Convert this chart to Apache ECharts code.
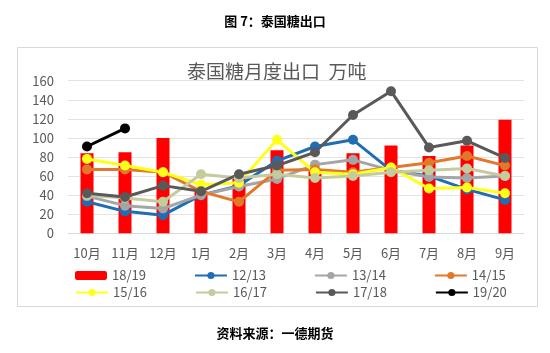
<!DOCTYPE html>
<html><head><meta charset="utf-8">
<script src="https://cdn.jsdelivr.net/npm/echarts@6/dist/echarts.min.js"></script>
<style>html,body{margin:0;padding:0;background:#fff}#c{width:550px;height:353px}</style>
</head><body><div id="c"></div>
<script>
const months = ['10月','11月','12月','1月','2月','3月','4月','5月','6月','7月','8月','9月'];
const yTicks = [0,20,40,60,80,100,120,140,160];
const s1819 = [84,85,100,44,58,87,65,84,92,81,92,119];
const s1213 = [33,23,19,40,50,76,91,98,66,60,46,35];
const s1314 = [39,29,26,40,49,57,72,77,66,59,58,60];
const s1415 = [67,67,64,44,33,66,67,64,69,74,81,71];
const s1516 = [78,71,64,51,53,98,64,62,69,47,48,42];
const s1617 = [40,37,33,62,58,62,58,60,64,66,68,60];
const s1718 = [42,38,50,44,62,71,85,124,149,90,97,79];
const s1920 = [91,110];

const font = '"Noto Sans CJK SC", "Noto Sans", sans-serif';
function line(name, data, color, z) {
  return {name, type:'line', data, symbol:'circle', symbolSize:10, z:z||2,
    lineStyle:{color, width:3}, itemStyle:{color}, emphasis:{disabled:true}};
}
const chart = echarts.init(document.getElementById('c'), null, {renderer:'canvas'});
chart.setOption({
  animation:false,
  graphic:[
    {type:'rect', shape:{x:17.5,y:47.5,width:520,height:259}, style:{fill:'none', stroke:'#d9d9d9', lineWidth:1}, z:-1},
    {type:'text', left:'center', top:15, style:{text:'图 7：泰国糖出口', font:'bold 13px '+font, fill:'#000'}},
    {type:'text', left:'center', top:327, style:{text:'资料来源：一德期货', font:'bold 13px '+font, fill:'#000'}},
    {type:'text', x:187, y:62, style:{text:'泰国糖月度出口  万吨', font:'19px '+font, fill:'#595959'}}
  ],
  grid:{left:68, right:26, top:80.7, bottom:119.7},
  xAxis:{type:'category', data:months, axisTick:{show:false},
    axisLine:{lineStyle:{color:'#d9d9d9'}},
    axisLabel:{color:'#595959', fontSize:13, fontFamily:font, margin:13}},
  yAxis:{type:'value', min:yTicks[0], max:yTicks[yTicks.length-1], interval:20,
    axisLine:{show:false}, axisTick:{show:false},
    splitLine:{lineStyle:{color:'#e3e3e3'}},
    axisLabel:{color:'#595959', fontSize:13, fontFamily:font, margin:14}},
  legend:[
    {data:['18/19','12/13','13/14','14/15'], left:70, top:264, itemWidth:32, itemHeight:9, itemGap:48,
     textStyle:{color:'#595959', fontSize:13, fontFamily:font}},
    {data:['15/16','16/17','17/18','19/20'], left:70, top:281, itemWidth:32, itemHeight:9, itemGap:48,
     textStyle:{color:'#595959', fontSize:13, fontFamily:font}}
  ],
  series:[
    {name:'18/19', type:'bar', data:s1819, barWidth:13, itemStyle:{color:'#ff0000'}, z:1},
    line('12/13', s1213, '#1f6db3'),
    line('13/14', s1314, '#a5a5a5'),
    line('14/15', s1415, '#e2782a'),
    line('15/16', s1516, '#ffff1a'),
    line('16/17', s1617, '#c4cc9e'),
    line('17/18', s1718, '#595959'),
    line('19/20', s1920, '#000000')
  ]
});
</script></body></html>
